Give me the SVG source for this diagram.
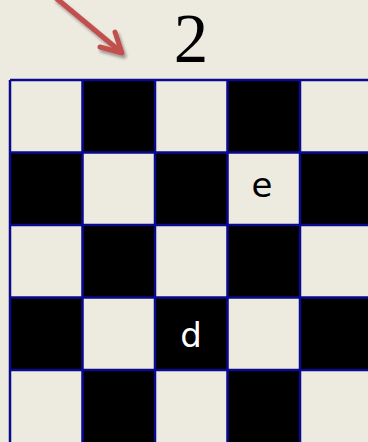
<svg xmlns="http://www.w3.org/2000/svg" width="368" height="442" viewBox="0 0 368 442">
<style>
.w{fill:#EDEAE0}
.b{fill:#000}
.grid{stroke:#0A0A8C;stroke-width:2.5;fill:none}
.lbl{font-family:"DejaVu Sans","Liberation Sans",sans-serif;font-size:34px;text-anchor:middle}
</style>
<defs>
<filter id="sh" x="-20%" y="-20%" width="150%" height="150%">
<feGaussianBlur in="SourceAlpha" stdDeviation="1.5"/>
<feOffset dx="2" dy="3" result="o"/>
<feComponentTransfer><feFuncA type="linear" slope="0.35"/></feComponentTransfer>
<feMerge><feMergeNode/><feMergeNode in="SourceGraphic"/></feMerge>
</filter>
</defs>
<rect width="368" height="442" fill="#EDEAE0"/>
<g id="board">
<rect class="b" x="82.5" y="80" width="72.5" height="72.5"/>
<rect class="b" x="227.5" y="80" width="72.5" height="72.5"/>
<rect class="b" x="10" y="152.5" width="72.5" height="72.5"/>
<rect class="b" x="155" y="152.5" width="72.5" height="72.5"/>
<rect class="b" x="300" y="152.5" width="80" height="72.5"/>
<rect class="b" x="82.5" y="225" width="72.5" height="72.5"/>
<rect class="b" x="227.5" y="225" width="72.5" height="72.5"/>
<rect class="b" x="10" y="297.5" width="72.5" height="72.5"/>
<rect class="b" x="155" y="297.5" width="72.5" height="72.5"/>
<rect class="b" x="300" y="297.5" width="80" height="72.5"/>
<rect class="b" x="82.5" y="370" width="72.5" height="80"/>
<rect class="b" x="227.5" y="370" width="72.5" height="80"/>
<path class="grid" d="M10,80H370M10,152.5H370M10,225H370M10,297.5H370M10,370H370M10,80V450M82.5,80V450M155,80V450M227.5,80V450M300,80V450"/>
</g>
<g id="cell-e"><text class="lbl" x="262" y="197" fill="#000">e</text></g>
<g id="cell-d"><text class="lbl" x="191" y="347" fill="#fff">d</text></g>
<g id="label-2"><text x="191" y="61.5" font-family="'Liberation Serif',serif" font-size="69" text-anchor="middle" fill="#000">2</text></g>
<g id="connectors">
<g filter="url(#sh)" stroke="#C0504D" stroke-width="5" stroke-linecap="round" stroke-linejoin="round" fill="none">
<path d="M56,-2L121,52"/>
<path d="M100,47L122,53L115,32"/>
</g>
</g>
</svg>
